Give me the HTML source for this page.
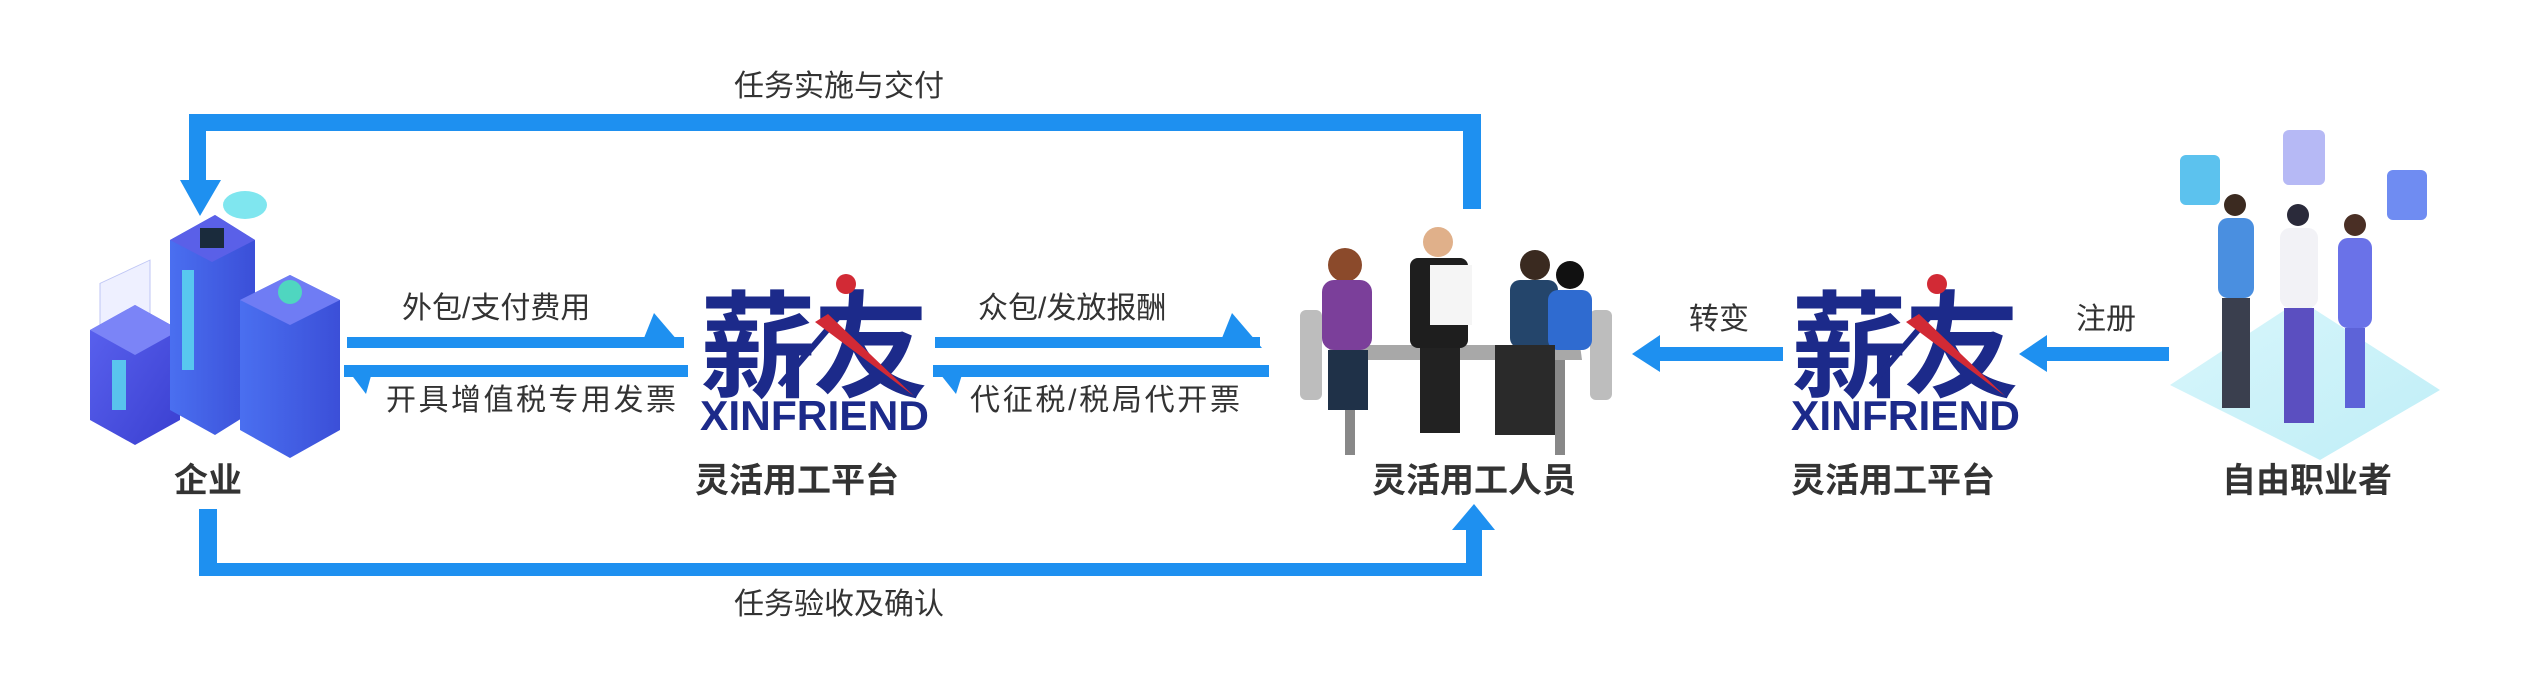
<!DOCTYPE html>
<html><head><meta charset="utf-8"><style>
html,body{margin:0;padding:0;background:#fff;}
svg{display:block;}
text{font-family:"Liberation Sans","Noto Sans CJK SC",sans-serif;}
</style></head><body>
<svg width="2526" height="690" viewBox="0 0 2526 690" xmlns="http://www.w3.org/2000/svg">
<defs>
<linearGradient id="bx" x1="0" y1="0" x2="1" y2="1"><stop offset="0" stop-color="#5b63f0"/><stop offset="1" stop-color="#3a3fd0"/></linearGradient>
<linearGradient id="bx2" x1="0" y1="0" x2="1" y2="0"><stop offset="0" stop-color="#4a6ff0"/><stop offset="1" stop-color="#3b4fd8"/></linearGradient>
<linearGradient id="fl" x1="0" y1="0" x2="1" y2="1"><stop offset="0" stop-color="#d9f6fb"/><stop offset="1" stop-color="#bfeef7"/></linearGradient>
</defs>
<g fill="#1e90f0">
<!-- top loop -->
<rect x="189" y="114" width="1292" height="17"/>
<rect x="1463" y="114" width="18" height="95"/>
<rect x="189" y="114" width="17" height="70"/>
<polygon points="180,180 221,180 200,216"/>
<!-- bottom loop -->
<rect x="199" y="509" width="18" height="67"/>
<rect x="199" y="563" width="1283" height="13"/>
<rect x="1466" y="525" width="16" height="51"/>
<polygon points="1452,530 1495,530 1474,504"/>
<!-- left double -->
<rect x="347" y="337" width="337" height="11"/>
<polygon points="654,313 684,348 640,348"/>
<rect x="344" y="365" width="344" height="12"/>
<polygon points="344,365 374,365 366,394"/>
<!-- right double -->
<rect x="935" y="337" width="325" height="11"/>
<polygon points="1232,313 1262,348 1218,348"/>
<rect x="933" y="365" width="336" height="12"/>
<polygon points="933,365 965,365 956,394"/>
<!-- 转变 -->
<rect x="1650" y="347" width="133" height="14"/>
<polygon points="1632,354 1660,335 1660,372"/>
<!-- 注册 -->
<rect x="2035" y="347" width="134" height="14"/>
<polygon points="2019,354 2047,335 2047,372"/>
</g>
<g font-size="30" fill="#333">
<text x="734" y="96">任务实施与交付</text>
<text x="734" y="614">任务验收及确认</text>
<text x="402" y="318">外包/支付费用</text>
<text x="386" y="410" textLength="290">开具增值税专用发票</text>
<text x="978" y="318">众包/发放报酬</text>
<text x="970" y="410" textLength="270">代征税/税局代开票</text>
<text x="1689" y="329">转变</text>
<text x="2076" y="329">注册</text>
</g>
<g font-size="34" font-weight="bold" fill="#333">
<text x="174" y="492">企业</text>
<text x="695" y="492">灵活用工平台</text>
<text x="1372" y="492">灵活用工人员</text>
<text x="1791" y="492">灵活用工平台</text>
<text x="2222" y="492">自由职业者</text>
</g>
<!-- logos -->
<g id="logo1">
<text x="700" y="388" font-size="116" font-weight="bold" fill="#1c2a8a" textLength="229" font-family="Noto Sans CJK SC,sans-serif">薪友</text>
<line x1="780" y1="385" x2="840" y2="315" stroke="#1c2a8a" stroke-width="6"/>
<polygon points="815,322 828,314 914,396" fill="#d22a35"/>
<circle cx="846" cy="284" r="10" fill="#d22a35"/>
<text x="700" y="430" font-size="42" font-weight="bold" fill="#1c2a8a" textLength="229" lengthAdjust="spacingAndGlyphs">XINFRIEND</text>
</g>
<use href="#logo1" x="1091"/>
<!-- enterprise servers -->
<g>
<rect x="100" y="270" width="50" height="60" fill="#eef0ff" stroke="#bfc6f5" transform="skewY(-25) translate(0,60)"/>
<polygon points="90,330 135,305 180,330 180,420 135,445 90,420" fill="url(#bx)"/>
<polygon points="135,305 180,330 135,355 90,330" fill="#7b84f7"/>
<polygon points="170,240 215,215 255,240 255,410 215,435 170,410" fill="url(#bx2)"/>
<polygon points="170,240 215,215 255,240 212,262" fill="#5a60e8"/>
<rect x="200" y="228" width="24" height="20" fill="#1a2b3c"/>
<rect x="182" y="270" width="12" height="100" fill="#5de0f0" opacity=".8"/>
<polygon points="240,300 290,275 340,300 340,430 290,458 240,430" fill="url(#bx2)"/>
<polygon points="240,300 290,275 340,300 290,325" fill="#6f7cf4"/>
<circle cx="290" cy="292" r="12" fill="#4fd6c0"/>
<rect x="112" y="360" width="14" height="50" fill="#5de0f0" opacity=".8"/>
<ellipse cx="245" cy="205" rx="22" ry="14" fill="#7fe6ef"/>
</g>
<!-- office people -->
<g>
<rect x="1300" y="310" width="22" height="90" fill="#bdbdbd" rx="6"/>
<rect x="1590" y="310" width="22" height="90" fill="#bdbdbd" rx="6"/>
<polygon points="1330,345 1580,345 1582,360 1328,360" fill="#a8a8a8"/>
<rect x="1345" y="360" width="10" height="95" fill="#888"/>
<rect x="1555" y="360" width="10" height="95" fill="#888"/>
<circle cx="1345" cy="265" r="17" fill="#8b4a2b"/>
<rect x="1322" y="280" width="50" height="70" rx="12" fill="#7b3f9a"/>
<rect x="1328" y="350" width="40" height="60" fill="#1f3148"/>
<circle cx="1438" cy="242" r="15" fill="#e0b08a"/>
<rect x="1410" y="258" width="58" height="90" rx="8" fill="#1e1e1e"/>
<rect x="1430" y="265" width="42" height="60" fill="#f5f5f5"/>
<rect x="1420" y="348" width="40" height="85" fill="#222"/>
<circle cx="1535" cy="265" r="15" fill="#3a2a20"/>
<rect x="1510" y="280" width="48" height="68" rx="10" fill="#24456b"/>
<circle cx="1570" cy="275" r="14" fill="#111"/>
<rect x="1548" y="290" width="44" height="60" rx="10" fill="#2f6bd0"/>
<rect x="1495" y="345" width="60" height="90" fill="#2a2a2a"/>
</g>
<!-- freelancers -->
<g>
<polygon points="2170,385 2300,300 2440,390 2320,460" fill="url(#fl)"/>
<rect x="2180" y="155" width="40" height="50" rx="6" fill="#5cc2ee"/>
<rect x="2283" y="130" width="42" height="55" rx="6" fill="#b6b9f5"/>
<rect x="2387" y="170" width="40" height="50" rx="6" fill="#6f8cf2"/>
<circle cx="2235" cy="205" r="11" fill="#3b2a20"/>
<rect x="2218" y="218" width="36" height="80" rx="10" fill="#4a8fe0"/>
<rect x="2222" y="298" width="28" height="110" fill="#3a3f4e"/>
<circle cx="2298" cy="215" r="11" fill="#2a2a3a"/>
<rect x="2280" y="228" width="38" height="80" rx="10" fill="#f2f2f6"/>
<rect x="2284" y="308" width="30" height="115" fill="#5b4fc0"/>
<circle cx="2355" cy="225" r="11" fill="#4a2f25"/>
<rect x="2338" y="238" width="34" height="90" rx="10" fill="#6a72e8"/>
<rect x="2345" y="328" width="20" height="80" fill="#5d63d8"/>
</g>
</svg>
</body></html>
